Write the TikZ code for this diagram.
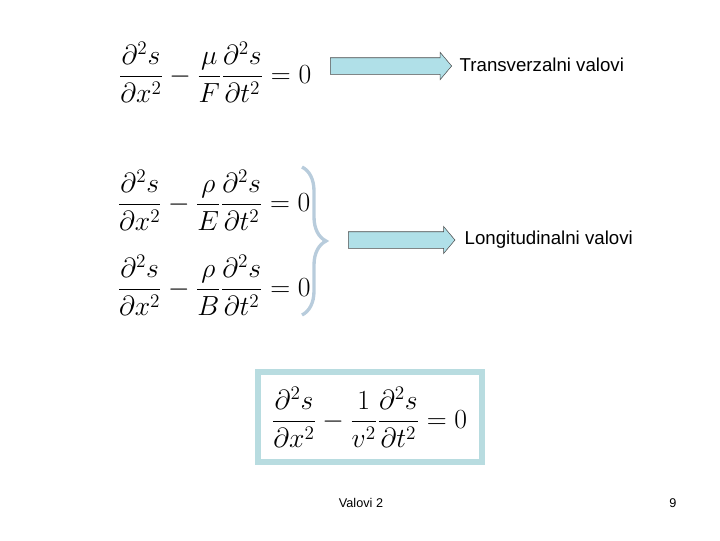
\documentclass[tikz,border=0pt]{standalone}
\usepackage{fontspec}
\setsansfont{Liberation Sans}
\usetikzlibrary{shapes.arrows,decorations.pathreplacing}
\begin{document}
\begin{tikzpicture}[x=0.75pt,y=-0.75pt,
  eq/.style={font=\huge},
  lbl/.style={font=\sffamily\fontsize{14}{16}\selectfont},
  foot/.style={font=\sffamily\fontsize{9.5}{10}\selectfont},
  barrow/.style={draw=black!70,fill=ceq,single arrow,minimum height=#1,single arrow head extend=4pt,inner sep=0pt,single arrow tip angle=100}]
\definecolor{ceq}{HTML}{B0E0E8}
\definecolor{cbr}{HTML}{B8CCDC}
\definecolor{cbox}{HTML}{B8DCE0}
\useasboundingbox (0,0) rectangle (720,540);
\node[eq] (e1) at (215,72) {$\displaystyle \frac{\partial^2 s}{\partial x^2}-\frac{\mu}{F}\frac{\partial^2 s}{\partial t^2}=0$};
\node[eq] (e2) at (214,200) {$\displaystyle \frac{\partial^2 s}{\partial x^2}-\frac{\rho}{E}\frac{\partial^2 s}{\partial t^2}=0$};
\node[eq] (e3) at (214,285) {$\displaystyle \frac{\partial^2 s}{\partial x^2}-\frac{\rho}{B}\frac{\partial^2 s}{\partial t^2}=0$};
\node[barrow=91pt,anchor=west] (a1) at (330,66) {\rule{0pt}{12pt}};
\node[lbl,anchor=west] (t1) at (455,65) {Transverzalni valovi};
\node[barrow=80pt,anchor=west] (a2) at (348,240) {\rule{0pt}{12pt}};
\node[lbl,anchor=west] (t2) at (460,240) {Longitudinalni valovi};
\coordinate (b1) at (302,167);
\coordinate (b2) at (302,315);
\draw[cbr,line width=2.5pt,decorate,decoration={brace,amplitude=18pt}] (b1) -- (b2);
\node[eq,draw=cbox,line width=4.5pt,minimum width=168pt,minimum height=68pt] (e4) at (369.5,417) {$\displaystyle \frac{\partial^2 s}{\partial x^2}-\frac{1}{v^2}\frac{\partial^2 s}{\partial t^2}=0$};
\node[foot] (f1) at (361,503) {Valovi 2};
\node[foot] (f2) at (673,503) {9};
\end{tikzpicture}
\end{document}
